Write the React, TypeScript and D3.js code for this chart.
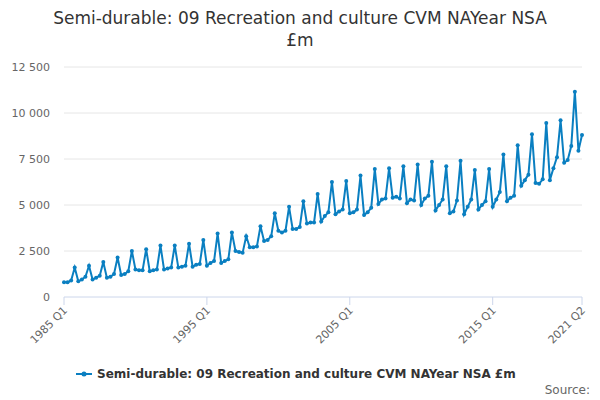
import * as d3 from 'd3'

const startYear = 1985
const values = [
  800, 800, 900, 1600,
  850, 950, 1100, 1700,
  950, 1050, 1150, 1900,
  1050, 1100, 1250, 2150,
  1200, 1250, 1400, 2500,
  1500, 1450, 1450, 2600,
  1400, 1450, 1500, 2800,
  1500, 1550, 1600, 2800,
  1600, 1650, 1700, 2900,
  1650, 1750, 1800, 3100,
  1700, 1850, 1950, 3450,
  1850, 1950, 2050, 3500,
  2500, 2450, 2400, 3300,
  2700, 2700, 2750, 3850,
  3050, 3100, 3300, 4550,
  3600, 3500, 3600, 4900,
  3700, 3700, 3800, 5200,
  4000, 4050, 4050, 5600,
  4100, 4400, 4600, 6250,
  4500, 4650, 4750, 6300,
  4550, 4600, 4750, 6600,
  4450, 4600, 4850, 6950,
  5050, 5300, 5350, 7000,
  5400, 5450, 5350, 7100,
  5100, 5300, 5250, 7200,
  5000, 5350, 5500, 7350,
  4700, 5000, 5300, 7100,
  4550, 4650, 5250, 7400,
  4500, 4900, 5300, 6900,
  4750, 5000, 5200, 6950,
  4900, 5300, 5700, 7750,
  5200, 5400, 5500, 8250,
  6050, 6350, 6650, 8850,
  6200, 6150, 6400, 9450,
  6350, 7000, 7600, 9600,
  7300, 7450, 8200, 11150,
  7950, 8800,
]
const yTicks = [0, 2500, 5000, 7500, 10000, 12500]
const xTickIdx = [0, 40, 80, 120, 145]
const label = (i: number) => `${startYear + Math.floor(i / 4)} Q${(i % 4) + 1}`

const W = 600, H = 400
const m = { left: 64, right: 18, top: 67, bottom: 103 }
const font = '"DejaVu Sans", Verdana, sans-serif'

export default function App() {
  const x = d3.scaleLinear().domain([0, values.length - 1]).range([m.left, W - m.right])
  const y = d3.scaleLinear().domain([0, 12500]).range([H - m.bottom, m.top])
  const line = d3.line<number>().x((_, i) => x(i)).y(d => y(d))
  const fmt = (v: number) => d3.format(',')(v).replace(/,/g, ' ')
  const color = '#0a7fc1'
  return (
    <svg width={W} height={H} style={{ position: 'absolute', left: 0, top: 0, fontFamily: font }}>
      <rect width={W} height={H} fill="#fff" />
      <text x={W / 2} y={24} textAnchor="middle" fontSize={17} fill="#333">Semi-durable: 09 Recreation and culture CVM NAYear NSA</text>
      <text x={W / 2} y={46} textAnchor="middle" fontSize={17} fill="#333">£m</text>
      {yTicks.map(t => (
        <g key={t}>
          {t > 0 && <line x1={m.left} x2={W - m.right} y1={y(t)} y2={y(t)} stroke="#e6e6e6" />}
          <text x={50} y={y(t) + 4} textAnchor="end" fontSize={11} fill="#666">{fmt(t)}</text>
        </g>
      ))}
      <line x1={m.left} x2={W - m.right} y1={y(0)} y2={y(0)} stroke="#ccd6eb" />
      {xTickIdx.map(i => (
        <g key={i}>
          <line x1={x(i)} x2={x(i)} y1={y(0)} y2={y(0) + 8} stroke="#ccd6eb" />
          <text transform={`translate(${x(i) + 4},${y(0) + 14}) rotate(-45)`} textAnchor="end" fontSize={11} fill="#666">{label(i)}</text>
        </g>
      ))}
      <path d={line(values) ?? ''} fill="none" stroke={color} strokeWidth={2} />
      {values.map((v, i) => <circle key={i} cx={x(i)} cy={y(v)} r={2} fill={color} />)}
      <line x1={76} x2={92} y1={374} y2={374} stroke={color} strokeWidth={2} />
      <circle cx={84} cy={374} r={2.5} fill={color} />
      <text x={97} y={378} fontSize={12} fontWeight="bold" fill="#333">Semi-durable: 09 Recreation and culture CVM NAYear NSA £m</text>
      <text x={590} y={394} textAnchor="end" fontSize={12} fill="#666">Source:</text>
    </svg>
  )
}
